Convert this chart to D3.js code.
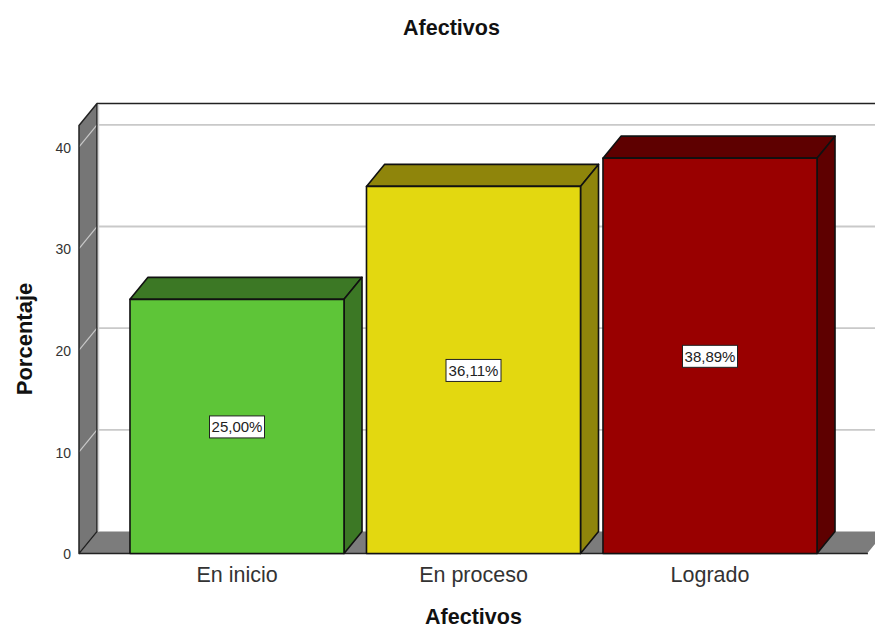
<!DOCTYPE html>
<html>

<head>
    <meta charset="utf-8">
    <title>Afectivos</title>
    <style type="text/css">
        html,
        body {
            margin: 0;
            background: #fff;
            font-family: "Liberation Sans", Arial, sans-serif;
        }

        svg {
            display: block;
        }
    </style>
</head>

<body>
    <script src="https://d3js.org/d3.v7.min.js"></script>
    <script>
        var categories = ["En inicio", "En proceso", "Logrado"];
        var values = [25.00, 36.11, 38.89];
        var labels = ["25,00%", "36,11%", "38,89%"];
        var frontColors = ["#5ec538", "#e3d810", "#990000"];
        var topColors = ["#3c7825", "#8f850b", "#5e0000"];
        var yTicks = [0, 10, 20, 30, 40];

        var width = 875, height = 628;
        var dx = 18, dy = -22;   // depth of the 3d box
        var yMax = 42.1;

        var svg = d3.select("body").append("svg")
            .attr("width", width)
            .attr("height", height);

        var x = d3.scaleBand()
            .domain(categories)
            .range([79, 868])
            .paddingInner(0.095)
            .paddingOuter(0.2156);

        var y = d3.scaleLinear()
            .domain([0, yMax])
            .range([553.5, 125.5]);

        var left = x.range()[0], right = x.range()[1];
        var y0 = y(0), yTop = y(yMax);

        function poly(pts, fill, stroke, sw) {
            return svg.append("polygon")
                .attr("points", pts.map(function (p) { return p.join(","); }).join(" "))
                .attr("fill", fill)
                .attr("stroke", stroke)
                .attr("stroke-width", sw)
                .attr("stroke-linejoin", "round");
        }

        // back wall outline
        svg.append("line")
            .attr("x1", left + dx).attr("x2", width)
            .attr("y1", yTop + dy).attr("y2", yTop + dy)
            .attr("stroke", "#222").attr("stroke-width", 1.6);

        // floor and left wall
        poly([[left, y0], [left + dx, y0 + dy], [right + dx, y0 + dy], [right, y0]], "#7c7c7c", "none", 0);
        poly([[left, y0], [left, yTop], [left + dx, yTop + dy], [left + dx, y0 + dy]], "#767676", "none", 0);

        // gridlines on the wall and the back
        yTicks.forEach(function (t) {
            var g = svg.append("g")
                .attr("fill", "none")
                .attr("stroke", "#c9c9c9");
            g.append("line")
                .attr("x1", left).attr("y1", y(t))
                .attr("x2", left + dx).attr("y2", y(t) + dy)
                .attr("stroke-width", 1.2);
            if (t > 0) {
                g.append("line")
                    .attr("x1", left + dx).attr("x2", width)
                    .attr("y1", y(t) + dy).attr("y2", y(t) + dy)
                    .attr("stroke-width", 1.8);
            }
        });

        // wall edges
        poly([[left, y0], [left, yTop], [left + dx, yTop + dy], [left + dx, y0 + dy]], "none", "#222", 1.5);
        svg.append("line")
            .attr("x1", left + dx + 1.5).attr("x2", left + dx + 1.5)
            .attr("y1", yTop + dy + 1).attr("y2", y0 + dy)
            .attr("stroke", "#d4d4d4").attr("stroke-width", 1.5);

        // floor front edge
        svg.append("line")
            .attr("x1", left).attr("x2", right)
            .attr("y1", y0).attr("y2", y0)
            .attr("stroke", "#222").attr("stroke-width", 1.6);
        svg.append("line")
            .attr("x1", right).attr("x2", right + dx)
            .attr("y1", y0).attr("y2", y0 + dy)
            .attr("stroke", "#fff").attr("stroke-width", 1.2);

        // bars
        categories.forEach(function (c, i) {
            var x0 = x(c), x1 = x0 + x.bandwidth(), yv = y(values[i]);
            poly([[x0, yv], [x0 + dx, yv + dy], [x1 + dx, yv + dy], [x1, yv]], topColors[i], "#111", 1.6);
            poly([[x1, yv], [x1 + dx, yv + dy], [x1 + dx, y0 + dy], [x1, y0]], topColors[i], "#111", 1.6);
            poly([[x0, yv], [x1, yv], [x1, y0], [x0, y0]], frontColors[i], "#111", 1.6);
        });

        // value labels
        categories.forEach(function (c, i) {
            var cx = x(c) + x.bandwidth() / 2, cy = y(values[i] / 2);
            svg.append("rect")
                .attr("x", cx - 27.5).attr("y", cy - 10.5)
                .attr("width", 55).attr("height", 22)
                .attr("fill", "#fff")
                .attr("stroke", "#222").attr("stroke-width", 1);
            svg.append("text")
                .attr("x", cx).attr("y", cy + 6)
                .attr("text-anchor", "middle")
                .attr("font-size", 15)
                .attr("fill", "#222")
                .text(labels[i]);
        });

        // axes
        var yAxis = d3.axisLeft(y).tickValues(yTicks).tickSize(0).tickPadding(8);
        var gy = svg.append("g").attr("transform", "translate(" + left + ",1)").call(yAxis);
        gy.select(".domain").remove();
        gy.selectAll("text")
            .attr("font-family", "Liberation Sans")
            .attr("font-size", 14)
            .attr("fill", "#333");

        var xAxis = d3.axisBottom(x).tickSize(0).tickPadding(13);
        var gx = svg.append("g").attr("transform", "translate(0," + y0 + ")").call(xAxis);
        gx.select(".domain").remove();
        gx.selectAll("text")
            .attr("font-family", "Liberation Sans")
            .attr("font-size", 21.5)
            .attr("fill", "#333");

        // titles
        svg.append("text")
            .attr("x", 451.5).attr("y", 35)
            .attr("text-anchor", "middle")
            .attr("font-size", 21.5).attr("font-weight", "bold")
            .attr("fill", "#111")
            .text("Afectivos");

        svg.append("text")
            .attr("x", 473.5).attr("y", 623.5)
            .attr("text-anchor", "middle")
            .attr("font-size", 21.5).attr("font-weight", "bold")
            .attr("fill", "#111")
            .text("Afectivos");

        svg.append("text")
            .attr("transform", "translate(32,339) rotate(-90)")
            .attr("text-anchor", "middle")
            .attr("font-size", 22).attr("font-weight", "bold")
            .attr("fill", "#111")
            .text("Porcentaje");
    </script>
</body>

</html>
